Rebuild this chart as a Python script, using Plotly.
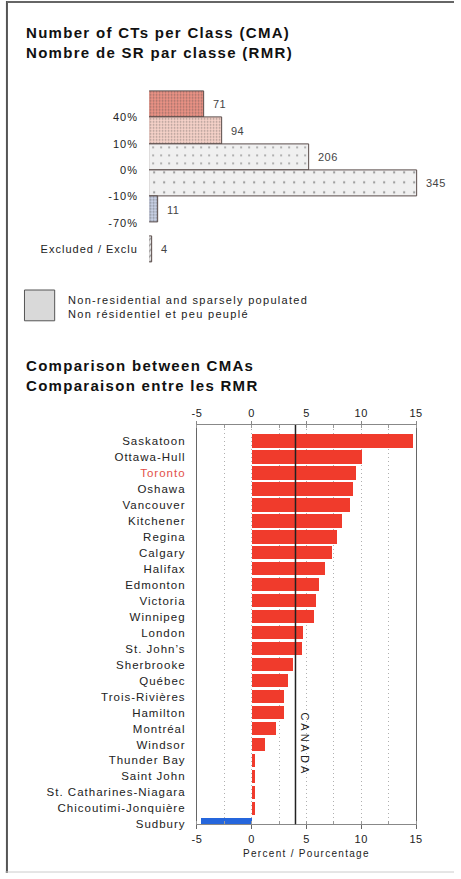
import plotly.graph_objects as go

W, H = 461, 879
def X(px): return px / W
def Y(py): return 1 - py / H

def ls(t, s=1.0, color=None):
    st = f"letter-spacing:{s}px"
    if color:
        st += f";color:{color}"
    return f'<span style="{st}">{t}</span>'

# ---------------- data ----------------
class_labels = ["40%", "10%", "0%", "-10%", "-70%", "Excluded / Exclu"]
class_counts = [71, 94, 206, 345, 11, 4]
class_pos = [0.5, 1.5, 2.5, 3.5, 4.5, 6.0]
class_ticks = [1, 2, 3, 4, 5, 6]

cmas = ["Saskatoon", "Ottawa-Hull", "Toronto", "Oshawa", "Vancouver", "Kitchener",
        "Regina", "Calgary", "Halifax", "Edmonton", "Victoria", "Winnipeg", "London",
        "St. John\u2019s", "Sherbrooke", "Québec", "Trois-Rivières", "Hamilton",
        "Montréal", "Windsor", "Thunder Bay", "Saint John", "St. Catharines-Niagara",
        "Chicoutimi-Jonquière", "Sudbury"]
change = [14.7, 10.1, 9.5, 9.2, 9.0, 8.2, 7.8, 7.3, 6.7, 6.1, 5.9, 5.7, 4.7,
          4.6, 3.8, 3.3, 2.9, 2.9, 2.2, 1.2, 0.3, 0.3, 0.3, 0.3, -4.6]
canada = 4.0
x_ticks = [-5, 0, 5, 10, 15]

FONT = "Liberation Sans, Arial, sans-serif"
RED = "#f03b2c"
BLUE = "#2566dc"

fig = go.Figure()

# ---------------- top chart ----------------
fig.add_trace(go.Bar(
    x=class_counts, y=class_pos, orientation="h", width=1,
    xaxis="x", yaxis="y",
    marker=dict(
        color=["#ee9486", "#f6d2c9", "#f0f0f0", "#f0f0f0", "#cdd6ec", "#e4e4e4"],
        line=dict(color="#5a4c4a", width=1),
        pattern=dict(
            shape=[".", ".", ".", ".", ".", "/"],
            fgcolor=["#d4503f", "#e08a7c", "#c4c4c4", "#c4c4c4", "#6a84c0", "#777777"],
            size=[3, 3, 8, 10, 3, 4],
            solidity=[0.3, 0.25, 0.05, 0.04, 0.4, 0.3],
            fillmode="overlay",
        ),
    ),
    showlegend=False, hoverinfo="skip",
))

annotations = []
for v, p in zip(class_counts, class_pos):
    annotations.append(dict(
        x=v, y=p, xref="x", yref="y", text=ls(str(v), 0.5), showarrow=False,
        xanchor="left", yanchor="middle", xshift=7,
        font=dict(family=FONT, size=11, color="#444"),
    ))

# ---------------- bottom chart ----------------
fig.add_trace(go.Bar(
    x=change, y=cmas, orientation="h", xaxis="x2", yaxis="y2",
    marker=dict(color=[BLUE if v < 0 else RED for v in change], line=dict(width=0)),
    width=0.84, showlegend=False, hoverinfo="skip",
))

ytext = [ls(c, 1.0, "#e2504a") if c == "Toronto" else ls(c, 1.0) for c in cmas]

axis_font = dict(family=FONT, size=11, color="#222")
DOT = "1px,3px"

fig.update_layout(
    width=W, height=H, margin=dict(l=0, r=0, t=0, b=0),
    paper_bgcolor="white", plot_bgcolor="rgba(0,0,0,0)",
    font=dict(family=FONT, color="#222"),
    bargap=0,
    xaxis=dict(domain=[X(148), X(448)], range=[0, 300 / 0.797], visible=False, fixedrange=True),
    yaxis=dict(domain=[Y(268), Y(88)], range=[6.65, -0.15], anchor="x",
               tickvals=class_ticks, ticktext=[ls(t, 1.0) for t in class_labels],
               showgrid=False, zeroline=False, showline=False,
               ticks="outside", ticklen=8, tickcolor="rgba(0,0,0,0)",
               tickfont=axis_font, fixedrange=True),
    xaxis2=dict(domain=[X(197), X(422)], range=[-5, 15], anchor="y2", side="top",
                tickvals=x_ticks, ticktext=[ls(str(t), 0.5) for t in x_ticks],
                showline=True, linecolor="#888", linewidth=1,
                ticks="outside", ticklen=3, tickcolor="#888",
                showgrid=True, gridcolor="#b0b0b0", griddash=DOT, gridwidth=1,
                minor=dict(dtick=2.5, tick0=0, showgrid=True, gridcolor="#b0b0b0", griddash=DOT,
                           ticks="inside", ticklen=3, tickcolor="#999"),
                zeroline=False, tickfont=axis_font, fixedrange=True),
    xaxis3=dict(range=[-5, 15], overlaying="x2", anchor="y2", side="bottom",
                tickvals=x_ticks, ticktext=[ls(str(t), 0.5) for t in x_ticks],
                showline=True, linecolor="#888", linewidth=1,
                ticks="outside", ticklen=4, tickcolor="#666",
                minor=dict(dtick=2.5, tick0=0, ticks="inside", ticklen=3, tickcolor="#999"),
                showgrid=False, zeroline=False, tickfont=axis_font,
                title=dict(text=ls("Percent / Pourcentage", 1.3), standoff=6,
                           font=dict(family=FONT, size=10, color="#222")),
                fixedrange=True),
    yaxis2=dict(domain=[Y(830), Y(428)], anchor="x2", type="category",
                categoryorder="array", categoryarray=cmas,
                range=[24, -1], tickvals=cmas, ticktext=ytext,
                showline=True, mirror=True, linecolor="#666", linewidth=1,
                ticks="outside", ticklen=8, tickcolor="rgba(0,0,0,0)",
                showgrid=False, zeroline=False, tickfont=dict(family=FONT, size=11.5, color="#222"),
                fixedrange=True),
)

# dummy trace to activate xaxis3
fig.add_trace(go.Scatter(x=[None], y=[None], xaxis="x3", yaxis="y2", showlegend=False, hoverinfo="skip"))

shapes = [
    # Canada reference line
    dict(type="line", xref="x2", yref="y2 domain", x0=canada, x1=canada, y0=0, y1=1,
         line=dict(color="#222", width=1.5)),
    # legend swatch
    dict(type="rect", xref="paper", yref="paper", x0=X(20), x1=X(51), y0=Y(323), y1=Y(292),
         fillcolor="#d9d9d9", line=dict(color="#555", width=1)),
    # page frame
    dict(type="line", xref="paper", yref="paper", x0=X(2), x1=X(2), y0=0, y1=Y(1),
         line=dict(color="#555", width=2)),
    dict(type="line", xref="paper", yref="paper", x0=X(2), x1=1, y0=Y(2), y1=Y(2),
         line=dict(color="#666", width=2)),
    dict(type="line", xref="paper", yref="paper", x0=0, x1=1, y0=Y(878), y1=Y(878),
         line=dict(color="#ccc", width=1)),
]

title_font = dict(family=FONT, size=15, color="#111", weight="bold")
annotations += [
    dict(xref="paper", yref="paper", x=X(20), y=Y(42.5), xanchor="left", yanchor="middle",
         align="left", showarrow=False, font=title_font,
         text=ls("Number of CTs per Class (CMA)", 1.3) + "<br>" + ls("Nombre de SR par classe (RMR)", 1.3)),
    dict(xref="paper", yref="paper", x=X(20), y=Y(378.5), xanchor="left", yanchor="middle",
         align="left", showarrow=False, font=title_font,
         text=ls("Comparison between CMAs", 1.3) + "<br>" + ls("Comparaison entre les RMR", 1.3)),
    dict(xref="paper", yref="paper", x=X(63), y=Y(309), xanchor="left", yanchor="middle",
         align="left", showarrow=False, font=dict(family=FONT, size=11, color="#222"),
         text=ls("Non-residential and sparsely populated", 1.3) + "<br>" + ls("Non résidentiel et peu peuplé", 1.3)),
    dict(xref="x2", yref="y2 domain", x=canada, y=(830 - 750) / 402, xanchor="left", yanchor="middle",
         xshift=2, textangle=90, showarrow=False,
         font=dict(family=FONT, size=11, color="#222"), text=ls("CANADA", 3)),
]

fig.update_layout(shapes=shapes, annotations=annotations)
fig.write_html("out.html", config={"displayModeBar": False},
               post_script="document.body.style.margin='0';")
